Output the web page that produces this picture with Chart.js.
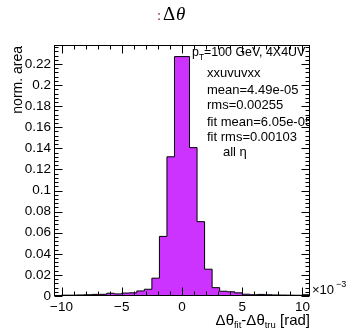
<!DOCTYPE html>
<html><head><meta charset="utf-8">
<script src="https://cdn.jsdelivr.net/npm/chart.js@4/dist/chart.umd.min.js"></script>
<style>html,body{margin:0;padding:0;background:#fff}#wrap{width:346px;height:331px;position:relative}</style>
</head><body><div id="wrap"><canvas id="c" width="346" height="331"></canvas></div>
<script>
// bin low edges (units of 1e-3 rad) and last upper edge
const binLow = [-10.625, -10, -9.375, -8.75, -8.125, -7.5, -6.875, -6.25, -5.625, -5, -4.375, -3.75, -3.125, -2.5, -1.875, -1.25, -0.625, 0, 0.625, 1.25, 1.875, 2.5, 3.125, 3.75, 4.375, 5, 5.625, 6.25, 6.875, 7.5, 8.125, 8.75, 9.375, 10];
const lastEdge = 10.625;
const normArea = [0.0005, 0.0008, 0.0008, 0.001, 0.0012, 0.0015, 0.0016, 0.0026, 0.002, 0.0028, 0.003, 0.0048, 0.0064, 0.0169, 0.0565, 0.132, 0.227, 0.227, 0.1407, 0.0705, 0.0254, 0.0079, 0.0045, 0.004, 0.003, 0.0017, 0.0012, 0.0015, 0.0012, 0.001, 0.0009, 0.0008, 0.0007, 0.0012];
const xTickLabels = [-10, -5, 0, 5, 10];
const yTickLabels = [0, 0.02, 0.04, 0.06, 0.08, 0.1, 0.12, 0.14, 0.16, 0.18, 0.2, 0.22];
const statLines = ["xxuvuvxx", "mean=4.49e-05", "rms=0.00255", "fit mean=6.05e-05", "fit rms=0.00103"];

const points = binLow.map((x, i) => ({x: x, y: normArea[i]}));
points.push({x: lastEdge, y: normArea[normArea.length - 1]});

const FONT = "'Liberation Sans', Arial, sans-serif";

const rootPlugin = {
  id: 'rootStyle',
  afterDatasetsDraw(chart) {
    const ctx = chart.ctx, a = chart.chartArea;
    const xs = chart.scales.x, ys = chart.scales.y;
    ctx.save();
    ctx.strokeStyle = '#000'; ctx.lineWidth = 1;
    const L = Math.round(a.left) + 0.5, R = Math.round(a.right) - 0.5;
    const T = Math.round(a.top) + 0.5, B = Math.round(a.bottom) - 0.5;
    ctx.beginPath();
    for (let v = -10; v <= 10; v += 1) {
      const px = Math.round(xs.getPixelForValue(v)) + 0.5;
      const len = (v % 5 === 0) ? 8 : 4;
      ctx.moveTo(px, B); ctx.lineTo(px, B - len);
      ctx.moveTo(px, T); ctx.lineTo(px, T + len);
    }
    for (let k = 0; k <= 59; k++) {
      const v = k * 0.004;
      const py = Math.round(ys.getPixelForValue(v)) + 0.5;
      if (py < T) continue;
      const len = (k % 5 === 0) ? 8 : 4;
      ctx.moveTo(L, py); ctx.lineTo(L + len, py);
      ctx.moveTo(R, py); ctx.lineTo(R - len, py);
    }
    ctx.stroke();
    ctx.strokeRect(L, T, R - L, B - T);
    ctx.restore();
  },
  afterDraw(chart) {
    const ctx = chart.ctx, a = chart.chartArea;
    ctx.save();
    ctx.fillStyle = '#000';
    ctx.textBaseline = 'alphabetic';
    // title
    ctx.font = "15px 'Liberation Serif', serif";
    ctx.fillStyle = '#8b3a3a';
    ctx.fillText(':', 157, 20);
    ctx.fillStyle = '#000';
    ctx.font = "19px 'Liberation Serif', serif";
    ctx.fillText('Δ', 163, 20);
    ctx.font = "italic 19px 'Liberation Serif', serif";
    ctx.fillText('θ', 176, 20);
    // stats box text (clipped at frame)
    ctx.save();
    ctx.beginPath(); ctx.rect(a.left, a.top, a.right - a.left - 1, a.bottom - a.top); ctx.clip();
    ctx.font = "12.4px " + FONT;
    let x = 192;
    ctx.fillText('p', x, 56); x += ctx.measureText('p').width;
    ctx.font = "8.5px " + FONT;
    ctx.fillText('T', x, 60); x += ctx.measureText('T').width;
    ctx.font = "12.4px " + FONT;
    ctx.fillText('=100 GeV, 4X4UV', x, 56);
    const ys = [77, 94, 109, 126, 141];
    ctx.font = "13px " + FONT;
    statLines.forEach((s, i) => ctx.fillText(s, 207, ys[i]));
    ctx.fillText('all η', 223, 156);
    ctx.restore();
    // x axis title
    const parts = [['Δθ', 15, 0], ['fit', 9.5, 3], ['-Δθ', 15, 0], ['tru', 9.5, 3], [' [rad]', 15, 0]];
    let w = 0;
    parts.forEach(p => { ctx.font = p[1] + "px " + FONT; w += ctx.measureText(p[0]).width; });
    x = 310 - w;
    parts.forEach(p => { ctx.font = p[1] + "px " + FONT; ctx.fillText(p[0], x, 325 + p[2]); x += ctx.measureText(p[0]).width; });
    // x10^-3
    ctx.font = "13px " + FONT;
    ctx.fillText('×10', 312, 294);
    ctx.font = "9px " + FONT;
    ctx.fillText('−3', 312 + 21 + 3, 287);
    // y axis title
    ctx.font = "14px " + FONT;
    ctx.translate(22, 46);
    ctx.rotate(-Math.PI / 2);
    ctx.textAlign = 'right';
    ctx.fillText('norm. area', 0, 0);
    ctx.restore();
  }
};

new Chart(document.getElementById('c'), {
  type: 'line',
  data: {
    datasets: [{
      data: points,
      stepped: 'before',
      fill: 'origin',
      backgroundColor: '#cc33ff',
      borderColor: '#000',
      borderWidth: 1,
      pointRadius: 0,
      tension: 0
    }]
  },
  options: {
    responsive: false,
    animation: false,
    events: [],
    layout: { padding: { top: 45, right: 36, bottom: 0, left: 0 } },
    plugins: { legend: { display: false }, title: { display: false }, tooltip: { enabled: false } },
    scales: {
      x: {
        type: 'linear', min: -10.625, max: 10.625,
        afterBuildTicks: s => { s.ticks = xTickLabels.map(v => ({value: v})); },
        afterFit: s => { s.height = 35; },
        grid: { display: false, drawTicks: false },
        border: { display: false },
        ticks: {
          color: '#000', font: { family: FONT, size: 13.5 }, padding: 3, maxRotation: 0, autoSkip: false,
          callback: v => String(v).replace('-', '−')
        }
      },
      y: {
        type: 'linear', min: 0, max: 0.238,
        afterBuildTicks: s => { s.ticks = yTickLabels.map(v => ({value: v})); },
        afterFit: s => { s.width = 54; },
        grid: { display: false, drawTicks: false },
        border: { display: false },
        ticks: {
          color: '#000', font: { family: FONT, size: 13.5 }, padding: 3, autoSkip: false,
          callback: v => String(+v.toFixed(3))
        }
      }
    }
  },
  plugins: [rootPlugin]
});
</script></body></html>
